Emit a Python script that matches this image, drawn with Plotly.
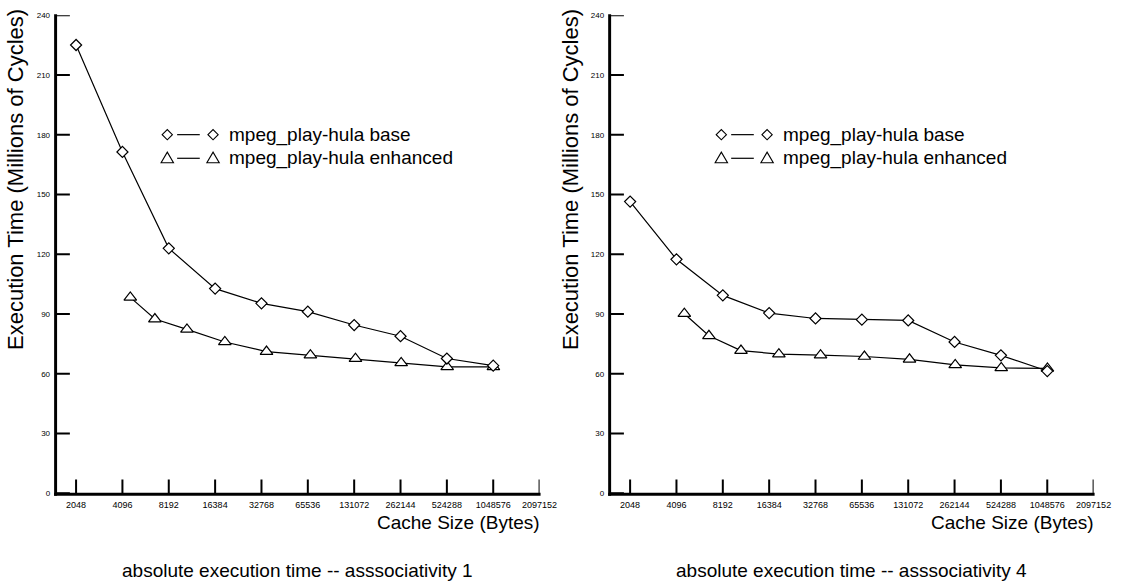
import numpy as np
import plotly.graph_objects as go

# ---------------- data ----------------
cache_sizes = [2048, 4096, 8192, 16384, 32768, 65536, 131072, 262144, 524288, 1048576]
enh_sizes = [4608, 6656, 10752, 18944, 35328, 68096, 133632, 264704, 526848, 1051136]

assoc1_base = [225.1, 171.4, 123.0, 102.8, 95.4, 91.2, 84.5, 78.9, 67.7, 64.1]
assoc1_enh = [98.4, 87.5, 82.3, 76.0, 71.2, 69.4, 67.6, 65.5, 63.5, 63.5]

assoc4_base = [146.5, 117.5, 99.4, 90.5, 87.8, 87.2, 86.8, 76.0, 69.3, 61.4]
assoc4_enh = [90.2, 79.1, 71.7, 69.9, 69.4, 68.7, 67.3, 64.5, 63.0, 62.7]

x_tickvals = [2048, 4096, 8192, 16384, 32768, 65536, 131072, 262144, 524288, 1048576, 2097152]
x_ticktext = [str(v) for v in x_tickvals]
y_tickvals = [0, 30, 60, 90, 120, 150, 180, 210, 240]

series_names = ["mpeg_play-hula base", "mpeg_play-hula enhanced"]
panel_titles = ["absolute execution time -- asssociativity 1",
                "absolute execution time -- asssociativity 4"]
y_title = "Execution Time (Millions of Cycles)"
x_title = "Cache Size (Bytes)"

# ---------------- layout constants ----------------
W, H = 1131, 585
FONT = "Liberation Sans, Arial, sans-serif"

def px_x(p):
    return p / W

def px_y(p):
    return (H - p) / H

panels = [
    dict(left=57, right=548.3, base=assoc1_base, enh=assoc1_enh),
    dict(left=620, right=1111.3, base=assoc4_base, enh=assoc4_enh),
]
top_px, bot_px = 11.5, 497
xrange_log = [np.log10(2 ** 10.569), np.log10(2 ** 21)]
yrange = [0, 240]
TICKLEN = 14

fig = go.Figure()

line_style = dict(color="black", width=1.2)
tick_style = dict(color="#000000", width=2)
diamond = dict(symbol="diamond", size=8.5, color="white", line=dict(color="black", width=1.2))
triangle = dict(symbol="triangle-up", size=11, color="white", line=dict(color="black", width=1.2))


def diamond_path(cx, cy, r=5.2):
    pts = [(cx - r, cy), (cx, cy - r), (cx + r, cy), (cx, cy + r)]
    return "M " + " L ".join(f"{px_x(x):.5f},{px_y(y):.5f}" for x, y in pts) + " Z"


def triangle_path(cx, cy, hw=6.3, up=6.2, down=4.6):
    pts = [(cx - hw, cy + down), (cx + hw, cy + down), (cx, cy - up)]
    return "M " + " L ".join(f"{px_x(x):.5f},{px_y(y):.5f}" for x, y in pts) + " Z"


annotations = []
shapes = []
for i, p in enumerate(panels):
    xa = "x" if i == 0 else "x2"
    ya = "y" if i == 0 else "y2"
    plot_w = p["right"] - p["left"]
    plot_h = bot_px - top_px

    # tick marks (inside), drawn through the axes' own scales
    y_tick_len = (yrange[1] - yrange[0]) * TICKLEN / plot_h
    tx, ty = [], []
    for v in x_tickvals:
        tx += [v, v, None]
        ty += [yrange[0], yrange[0] + y_tick_len, None]
    fig.add_trace(go.Scatter(x=tx, y=ty, mode="lines", line=tick_style, xaxis=xa, yaxis=ya,
                             showlegend=False, hoverinfo="skip", cliponaxis=False))
    x_lo_log = xrange_log[0]
    x_tick_end = 10 ** (x_lo_log + (xrange_log[1] - xrange_log[0]) * TICKLEN / plot_w)
    tx, ty = [], []
    for v in y_tickvals:
        tx += [10 ** x_lo_log, x_tick_end, None]
        ty += [v, v, None]
    fig.add_trace(go.Scatter(x=tx, y=ty, mode="lines", line=tick_style, xaxis=xa, yaxis=ya,
                             showlegend=False, hoverinfo="skip", cliponaxis=False))

    fig.add_trace(go.Scatter(x=enh_sizes, y=p["enh"], mode="lines+markers",
                             line=line_style, marker=triangle, xaxis=xa, yaxis=ya,
                             showlegend=False, name=series_names[1]))
    fig.add_trace(go.Scatter(x=cache_sizes, y=p["base"], mode="lines+markers",
                             line=line_style, marker=diamond, xaxis=xa, yaxis=ya,
                             showlegend=False, name=series_names[0]))

    axis_common = dict(showline=False, ticks="", showgrid=False, zeroline=False, mirror=False,
                       ticklabelstandoff=5)
    xkey = "xaxis" if i == 0 else "xaxis2"
    ykey = "yaxis" if i == 0 else "yaxis2"
    fig.update_layout(**{
        xkey: dict(type="log", domain=[px_x(p["left"]), px_x(p["right"])], range=xrange_log,
                   tickvals=x_tickvals, ticktext=x_ticktext, anchor=ya,
                   tickfont=dict(family=FONT, size=9, color="black"), **axis_common),
        ykey: dict(domain=[px_y(bot_px), px_y(top_px)], range=yrange, tickvals=y_tickvals,
                   anchor=xa, tickfont=dict(family=FONT, size=8, color="black"), **axis_common),
    })

    # axis lines drawn as filled rectangles (paper-space)
    shapes.append(dict(type="rect", xref="paper", yref="paper",
                       x0=px_x(p["left"] - 2), x1=px_x(p["left"] + 1),
                       y0=px_y(top_px - 1), y1=px_y(bot_px + 2.5),
                       fillcolor="black", line=dict(width=0), layer="above"))
    shapes.append(dict(type="rect", xref="paper", yref="paper",
                       x0=px_x(p["left"] - 2), x1=px_x(p["right"] + 1),
                       y0=px_y(bot_px - 0.5), y1=px_y(bot_px + 2.5),
                       fillcolor="black", line=dict(width=0), layer="above"))

    off = p["left"] - 57
    # y title
    annotations.append(dict(text=y_title, x=px_x(16 + off), y=px_y(178), xref="paper", yref="paper",
                            textangle=-90, showarrow=False, xanchor="center", yanchor="middle",
                            font=dict(family=FONT, size=22, color="black")))
    # x title
    annotations.append(dict(text=x_title, x=px_x(p["right"] + 2), y=px_y(527), xref="paper", yref="paper",
                            showarrow=False, xanchor="right", yanchor="middle",
                            font=dict(family=FONT, size=19, color="black")))
    # panel caption
    annotations.append(dict(text=panel_titles[i], x=px_x((p["left"] + p["right"]) / 2), y=px_y(575),
                            xref="paper", yref="paper", showarrow=False, xanchor="center",
                            yanchor="middle", font=dict(family=FONT, size=19, color="black")))

    # custom legend (marker — line — marker) as paper-space shapes
    for row, name in enumerate(series_names):
        ly = 132.7 + row * 24
        shapes.append(dict(type="line", xref="paper", yref="paper",
                           x0=px_x(180 + off), x1=px_x(203 + off), y0=px_y(ly), y1=px_y(ly),
                           line=dict(color="black", width=1.2)))
        for cx in (170 + off, 216.5 + off):
            path = diamond_path(cx, ly) if row == 0 else triangle_path(cx, ly)
            shapes.append(dict(type="path", xref="paper", yref="paper", path=path,
                               fillcolor="white", line=dict(color="black", width=1.1)))
        annotations.append(dict(text=name, x=px_x(231 + off), y=px_y(ly), xref="paper", yref="paper",
                                showarrow=False, xanchor="left", yanchor="middle",
                                font=dict(family=FONT, size=19, color="black")))

fig.update_layout(
    width=W, height=H,
    margin=dict(l=0, r=0, t=0, b=0),
    paper_bgcolor="white", plot_bgcolor="white",
    showlegend=False,
    annotations=annotations,
    shapes=shapes,
    font=dict(family=FONT, color="black"),
)

fig.write_html("out.html", config={"displayModeBar": False})
